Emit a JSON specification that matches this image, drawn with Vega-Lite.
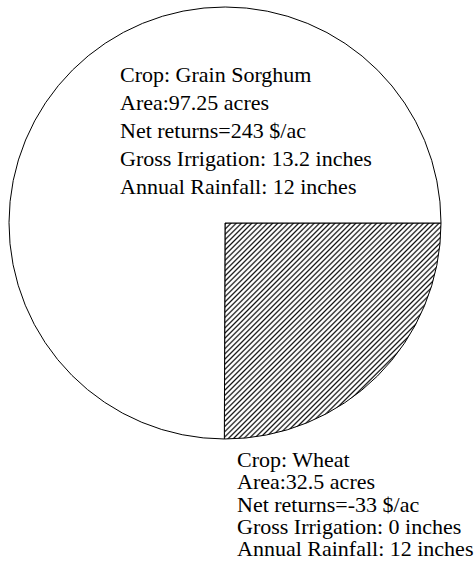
{
  "$schema": "https://vega.github.io/schema/vega-lite/v6.json",
  "width": 450,
  "height": 446,
  "autosize": {"type": "none"},
  "padding": {"left": 0, "top": 0, "right": 25, "bottom": 129},
  "background": "white",
  "config": {"view": {"stroke": null}, "font": "Liberation Serif", "text": {"font": "Liberation Serif", "fontSize": 22}},
  "data": {
    "values": [
      {"crop": "Wheat", "acres": 32.5, "order": 1, "label": ["Crop: Wheat", "Area:32.5 acres", "Net returns=-33 $/ac", "Gross Irrigation: 0 inches", "Annual Rainfall: 12 inches"]},
      {"crop": "Grain Sorghum", "acres": 97.25, "order": 2, "label": ["Crop: Grain Sorghum", "Area:97.25 acres", "Net returns=243 $/ac", "Gross Irrigation: 13.2 inches", "Annual Rainfall: 12 inches"]}
    ]
  },
  "layer": [
    {
      "mark": {"type": "arc", "radius": 216, "stroke": "#000", "strokeWidth": 1},
      "encoding": {
        "theta": {"field": "acres", "type": "quantitative", "stack": true, "scale": {"range": [1.5707963, 7.8539816]}},
        "order": {"field": "order", "type": "quantitative"},
        "fill": {
          "condition": {
            "test": "datum.crop === 'Wheat'",
            "value": {
              "gradient": "linear", "x1": 0, "y1": 0, "x2": 1, "y2": 1,
              "stops": [
                {"offset": 0, "color": "#fff"}, {"offset": 0.004, "color": "#111"}, {"offset": 0.008, "color": "#fff"},
                {"offset": 0.012, "color": "#fff"}, {"offset": 0.016, "color": "#111"}, {"offset": 0.020, "color": "#fff"},
                {"offset": 0.024, "color": "#fff"}, {"offset": 0.028, "color": "#111"}, {"offset": 0.032, "color": "#fff"},
                {"offset": 0.036, "color": "#fff"}, {"offset": 0.040, "color": "#111"}, {"offset": 0.044, "color": "#fff"},
                {"offset": 0.048, "color": "#fff"}, {"offset": 0.052, "color": "#111"}, {"offset": 0.056, "color": "#fff"},
                {"offset": 0.060, "color": "#fff"}, {"offset": 0.064, "color": "#111"}, {"offset": 0.068, "color": "#fff"},
                {"offset": 0.072, "color": "#fff"}, {"offset": 0.076, "color": "#111"}, {"offset": 0.080, "color": "#fff"},
                {"offset": 0.084, "color": "#fff"}, {"offset": 0.088, "color": "#111"}, {"offset": 0.092, "color": "#fff"},
                {"offset": 0.096, "color": "#fff"}, {"offset": 0.100, "color": "#111"}, {"offset": 0.104, "color": "#fff"},
                {"offset": 0.108, "color": "#fff"}, {"offset": 0.112, "color": "#111"}, {"offset": 0.116, "color": "#fff"},
                {"offset": 0.120, "color": "#fff"}, {"offset": 0.124, "color": "#111"}, {"offset": 0.128, "color": "#fff"},
                {"offset": 0.132, "color": "#fff"}, {"offset": 0.136, "color": "#111"}, {"offset": 0.140, "color": "#fff"},
                {"offset": 0.144, "color": "#fff"}, {"offset": 0.148, "color": "#111"}, {"offset": 0.152, "color": "#fff"},
                {"offset": 0.156, "color": "#fff"}, {"offset": 0.160, "color": "#111"}, {"offset": 0.164, "color": "#fff"},
                {"offset": 0.168, "color": "#fff"}, {"offset": 0.172, "color": "#111"}, {"offset": 0.176, "color": "#fff"},
                {"offset": 0.180, "color": "#fff"}, {"offset": 0.184, "color": "#111"}, {"offset": 0.188, "color": "#fff"},
                {"offset": 0.192, "color": "#fff"}, {"offset": 0.196, "color": "#111"}, {"offset": 0.200, "color": "#fff"},
                {"offset": 0.204, "color": "#fff"}, {"offset": 0.208, "color": "#111"}, {"offset": 0.212, "color": "#fff"},
                {"offset": 0.216, "color": "#fff"}, {"offset": 0.220, "color": "#111"}, {"offset": 0.224, "color": "#fff"},
                {"offset": 0.228, "color": "#fff"}, {"offset": 0.232, "color": "#111"}, {"offset": 0.236, "color": "#fff"},
                {"offset": 0.240, "color": "#fff"}, {"offset": 0.244, "color": "#111"}, {"offset": 0.248, "color": "#fff"},
                {"offset": 0.252, "color": "#fff"}, {"offset": 0.256, "color": "#111"}, {"offset": 0.260, "color": "#fff"},
                {"offset": 0.264, "color": "#fff"}, {"offset": 0.268, "color": "#111"}, {"offset": 0.272, "color": "#fff"},
                {"offset": 0.276, "color": "#fff"}, {"offset": 0.280, "color": "#111"}, {"offset": 0.284, "color": "#fff"},
                {"offset": 0.288, "color": "#fff"}, {"offset": 0.292, "color": "#111"}, {"offset": 0.296, "color": "#fff"},
                {"offset": 0.300, "color": "#fff"}, {"offset": 0.304, "color": "#111"}, {"offset": 0.308, "color": "#fff"},
                {"offset": 0.312, "color": "#fff"}, {"offset": 0.316, "color": "#111"}, {"offset": 0.320, "color": "#fff"},
                {"offset": 0.324, "color": "#fff"}, {"offset": 0.328, "color": "#111"}, {"offset": 0.332, "color": "#fff"},
                {"offset": 0.336, "color": "#fff"}, {"offset": 0.340, "color": "#111"}, {"offset": 0.344, "color": "#fff"},
                {"offset": 0.348, "color": "#fff"}, {"offset": 0.352, "color": "#111"}, {"offset": 0.356, "color": "#fff"},
                {"offset": 0.360, "color": "#fff"}, {"offset": 0.364, "color": "#111"}, {"offset": 0.368, "color": "#fff"},
                {"offset": 0.372, "color": "#fff"}, {"offset": 0.376, "color": "#111"}, {"offset": 0.380, "color": "#fff"},
                {"offset": 0.384, "color": "#fff"}, {"offset": 0.388, "color": "#111"}, {"offset": 0.392, "color": "#fff"},
                {"offset": 0.396, "color": "#fff"}, {"offset": 0.400, "color": "#111"}, {"offset": 0.404, "color": "#fff"},
                {"offset": 0.408, "color": "#fff"}, {"offset": 0.412, "color": "#111"}, {"offset": 0.416, "color": "#fff"},
                {"offset": 0.420, "color": "#fff"}, {"offset": 0.424, "color": "#111"}, {"offset": 0.428, "color": "#fff"},
                {"offset": 0.432, "color": "#fff"}, {"offset": 0.436, "color": "#111"}, {"offset": 0.440, "color": "#fff"},
                {"offset": 0.444, "color": "#fff"}, {"offset": 0.448, "color": "#111"}, {"offset": 0.452, "color": "#fff"},
                {"offset": 0.456, "color": "#fff"}, {"offset": 0.460, "color": "#111"}, {"offset": 0.464, "color": "#fff"},
                {"offset": 0.468, "color": "#fff"}, {"offset": 0.472, "color": "#111"}, {"offset": 0.476, "color": "#fff"},
                {"offset": 0.480, "color": "#fff"}, {"offset": 0.484, "color": "#111"}, {"offset": 0.488, "color": "#fff"},
                {"offset": 0.492, "color": "#fff"}, {"offset": 0.496, "color": "#111"}, {"offset": 0.500, "color": "#fff"},
                {"offset": 0.504, "color": "#fff"}, {"offset": 0.508, "color": "#111"}, {"offset": 0.512, "color": "#fff"},
                {"offset": 0.516, "color": "#fff"}, {"offset": 0.520, "color": "#111"}, {"offset": 0.524, "color": "#fff"},
                {"offset": 0.528, "color": "#fff"}, {"offset": 0.532, "color": "#111"}, {"offset": 0.536, "color": "#fff"},
                {"offset": 0.540, "color": "#fff"}, {"offset": 0.544, "color": "#111"}, {"offset": 0.548, "color": "#fff"},
                {"offset": 0.552, "color": "#fff"}, {"offset": 0.556, "color": "#111"}, {"offset": 0.560, "color": "#fff"},
                {"offset": 0.564, "color": "#fff"}, {"offset": 0.568, "color": "#111"}, {"offset": 0.572, "color": "#fff"},
                {"offset": 0.576, "color": "#fff"}, {"offset": 0.580, "color": "#111"}, {"offset": 0.584, "color": "#fff"},
                {"offset": 0.588, "color": "#fff"}, {"offset": 0.592, "color": "#111"}, {"offset": 0.596, "color": "#fff"},
                {"offset": 0.600, "color": "#fff"}, {"offset": 0.604, "color": "#111"}, {"offset": 0.608, "color": "#fff"},
                {"offset": 0.612, "color": "#fff"}, {"offset": 0.616, "color": "#111"}, {"offset": 0.620, "color": "#fff"},
                {"offset": 0.624, "color": "#fff"}, {"offset": 0.628, "color": "#111"}, {"offset": 0.632, "color": "#fff"},
                {"offset": 0.636, "color": "#fff"}, {"offset": 0.640, "color": "#111"}, {"offset": 0.644, "color": "#fff"},
                {"offset": 0.648, "color": "#fff"}, {"offset": 0.652, "color": "#111"}, {"offset": 0.656, "color": "#fff"},
                {"offset": 0.660, "color": "#fff"}, {"offset": 0.664, "color": "#111"}, {"offset": 0.668, "color": "#fff"},
                {"offset": 0.672, "color": "#fff"}, {"offset": 0.676, "color": "#111"}, {"offset": 0.680, "color": "#fff"},
                {"offset": 0.684, "color": "#fff"}, {"offset": 0.688, "color": "#111"}, {"offset": 0.692, "color": "#fff"},
                {"offset": 0.696, "color": "#fff"}, {"offset": 0.700, "color": "#111"}, {"offset": 0.704, "color": "#fff"},
                {"offset": 0.708, "color": "#fff"}, {"offset": 0.712, "color": "#111"}, {"offset": 0.716, "color": "#fff"},
                {"offset": 0.720, "color": "#fff"}, {"offset": 0.724, "color": "#111"}, {"offset": 0.728, "color": "#fff"},
                {"offset": 0.732, "color": "#fff"}, {"offset": 0.736, "color": "#111"}, {"offset": 0.740, "color": "#fff"},
                {"offset": 0.744, "color": "#fff"}, {"offset": 0.748, "color": "#111"}, {"offset": 0.752, "color": "#fff"},
                {"offset": 0.756, "color": "#fff"}, {"offset": 0.760, "color": "#111"}, {"offset": 0.764, "color": "#fff"},
                {"offset": 0.768, "color": "#fff"}, {"offset": 0.772, "color": "#111"}, {"offset": 0.776, "color": "#fff"},
                {"offset": 0.780, "color": "#fff"}, {"offset": 0.784, "color": "#111"}, {"offset": 0.788, "color": "#fff"},
                {"offset": 0.792, "color": "#fff"}, {"offset": 0.796, "color": "#111"}, {"offset": 0.800, "color": "#fff"},
                {"offset": 0.804, "color": "#fff"}, {"offset": 0.808, "color": "#111"}, {"offset": 0.812, "color": "#fff"},
                {"offset": 0.816, "color": "#fff"}, {"offset": 0.820, "color": "#111"}, {"offset": 0.824, "color": "#fff"},
                {"offset": 0.828, "color": "#fff"}, {"offset": 0.832, "color": "#111"}, {"offset": 0.836, "color": "#fff"},
                {"offset": 0.840, "color": "#fff"}, {"offset": 0.844, "color": "#111"}, {"offset": 0.848, "color": "#fff"},
                {"offset": 0.852, "color": "#fff"}, {"offset": 0.856, "color": "#111"}, {"offset": 0.860, "color": "#fff"},
                {"offset": 0.864, "color": "#fff"}, {"offset": 0.868, "color": "#111"}, {"offset": 0.872, "color": "#fff"},
                {"offset": 0.876, "color": "#fff"}, {"offset": 0.880, "color": "#111"}, {"offset": 0.884, "color": "#fff"},
                {"offset": 0.888, "color": "#fff"}, {"offset": 0.892, "color": "#111"}, {"offset": 0.896, "color": "#fff"},
                {"offset": 0.900, "color": "#fff"}, {"offset": 0.904, "color": "#111"}, {"offset": 0.908, "color": "#fff"},
                {"offset": 0.912, "color": "#fff"}, {"offset": 0.916, "color": "#111"}, {"offset": 0.920, "color": "#fff"},
                {"offset": 0.924, "color": "#fff"}, {"offset": 0.928, "color": "#111"}, {"offset": 0.932, "color": "#fff"},
                {"offset": 0.936, "color": "#fff"}, {"offset": 0.940, "color": "#111"}, {"offset": 0.944, "color": "#fff"},
                {"offset": 0.948, "color": "#fff"}, {"offset": 0.952, "color": "#111"}, {"offset": 0.956, "color": "#fff"},
                {"offset": 0.960, "color": "#fff"}, {"offset": 0.964, "color": "#111"}, {"offset": 0.968, "color": "#fff"},
                {"offset": 0.972, "color": "#fff"}, {"offset": 0.976, "color": "#111"}, {"offset": 0.980, "color": "#fff"},
                {"offset": 0.984, "color": "#fff"}, {"offset": 0.988, "color": "#111"}, {"offset": 0.992, "color": "#fff"},
                {"offset": 1, "color": "#fff"}
              ]
            }
          },
          "value": "#fff"
        }
      }
    },
    {
      "transform": [{"filter": "datum.crop === 'Wheat'"}],
      "mark": {"type": "text", "font": "Liberation Serif", "fontSize": 22, "color": "#000", "align": "left", "baseline": "alphabetic", "lineHeight": 22.3, "dx": 12, "dy": 244},
      "encoding": {
        "text": {"field": "label"}
      }
    },
    {
      "transform": [{"filter": "datum.crop === 'Grain Sorghum'"}],
      "mark": {"type": "text", "font": "Liberation Serif", "fontSize": 22, "color": "#000", "align": "left", "baseline": "alphabetic", "lineHeight": 28, "dx": -105, "dy": -141},
      "encoding": {
        "text": {"field": "label"}
      }
    }
  ]
}
